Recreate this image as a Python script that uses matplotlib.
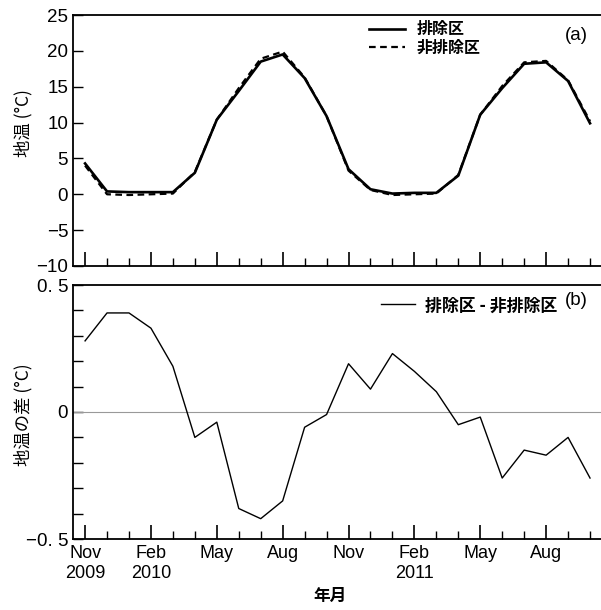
import matplotlib
matplotlib.use("Agg")
import matplotlib.pyplot as plt
from matplotlib.ticker import MultipleLocator, FixedLocator
import numpy as np

# monthly soil temperature, Nov 2009 - Oct 2011
months = ["Nov", "Dec", "Jan", "Feb", "Mar", "Apr", "May", "Jun", "Jul", "Aug", "Sep", "Oct",
          "Nov", "Dec", "Jan", "Feb", "Mar", "Apr", "May", "Jun", "Jul", "Aug", "Sep", "Oct"]
removed = [4.3, 0.4, 0.3, 0.3, 0.3, 3.0, 10.4, 14.4, 18.5, 19.5, 16.2, 10.9,
           3.5, 0.7, 0.1, 0.2, 0.2, 2.6, 11.1, 14.8, 18.2, 18.4, 15.8, 9.9]
not_removed = [4.0, 0.0, -0.1, 0.0, 0.1, 3.1, 10.4, 14.8, 18.9, 19.9, 16.3, 10.9,
               3.3, 0.6, -0.1, 0.0, 0.1, 2.7, 11.1, 15.1, 18.4, 18.6, 15.9, 10.2]
diff = [0.28, 0.39, 0.39, 0.33, 0.18, -0.10, -0.04, -0.38, -0.42, -0.35, -0.06, -0.01,
        0.19, 0.09, 0.23, 0.16, 0.08, -0.05, -0.02, -0.26, -0.15, -0.17, -0.10, -0.26]
xtick_labels = ["Nov\n2009", "Feb\n2010", "May", "Aug", "Nov", "Feb\n2011", "May", "Aug"]
ytick_top = [-10, -5, 0, 5, 10, 15, 20, 25]

latin = ["Liberation Sans", "DejaVu Sans"]
jp = ["Noto Sans CJK JP", "DejaVu Sans"]
plt.rcParams["font.family"] = jp

x = np.arange(len(months))
W, H = 601, 610
fig = plt.figure(figsize=(W / 100, H / 100), dpi=100)

def px_axes(l, t, r, b):
    return fig.add_axes([l / W, 1 - b / H, (r - l) / W, (b - t) / H])

ax1 = px_axes(73, 15, 601, 266)
ax2 = px_axes(73, 285, 601, 539)

for ax in (ax1, ax2):
    ax.set_xlim(-0.55, 23.5)
    ax.spines["right"].set_visible(False)
    for s in ("left", "bottom", "top"):
        ax.spines[s].set_linewidth(1.3)
    ax.xaxis.set_major_locator(FixedLocator(x[::3]))
    ax.xaxis.set_minor_locator(FixedLocator(x))
    ax.tick_params(axis="x", which="major", direction="in", length=10, width=1.2)
    ax.tick_params(axis="x", which="minor", direction="in", length=6, width=1.0)
    ax.tick_params(axis="y", which="both", direction="in", length=7, width=1.0)

# (a) soil temperature
ax1.plot(x, removed, color="black", lw=1.9, label="排除区")
ax1.plot(x, not_removed, color="black", lw=1.6, ls=(0, (3, 2)), label="非排除区")
ax1.set_ylim(-10, 25)
ax1.set_yticks(ytick_top)
ax1.set_yticklabels([str(v).replace("-", "\u2212") for v in ytick_top],
                    family=latin, fontsize=13.5)
ax1.set_xticklabels([])
ax1.set_ylabel("地温 (°C)", fontsize=12.5)
ax1.yaxis.set_label_coords(-0.077, 0.57)
ax1.legend(loc="upper left", bbox_to_anchor=(0.56, 0.975), frameon=False,
           borderpad=0, borderaxespad=0, handlelength=2.3, handletextpad=0.7,
           labelspacing=0.15, prop={"family": jp, "size": 11.5, "weight": "bold"})
ax1.text(0.975, 0.92, "(a)", transform=ax1.transAxes, ha="right", va="center",
         fontsize=13.5, family=latin)

# (b) difference
ax2.axhline(0, color="#999999", lw=0.8)
ax2.plot(x, diff, color="black", lw=1.0, label="排除区 - 非排除区")
ax2.set_ylim(-0.5, 0.5)
ax2.yaxis.set_minor_locator(MultipleLocator(0.1))
ax2.set_yticks([-0.5, 0, 0.5])
ax2.set_yticklabels(["\u22120. 5", "0", "0. 5"], family=latin, fontsize=13.5)
ax2.set_xticklabels(xtick_labels, family=latin, fontsize=13, linespacing=1.3)
ax2.tick_params(axis="x", which="major", pad=4)
ax2.set_ylabel("地温の差 (°C)", fontsize=12.5)
ax2.yaxis.set_label_coords(-0.076, 0.49)
ax2.set_xlabel("年月", fontsize=12, weight="bold")
ax2.xaxis.set_label_coords(0.487, -0.19)
ax2.legend(loc="upper left", bbox_to_anchor=(0.583, 0.955), frameon=False,
           borderpad=0, borderaxespad=0, handlelength=2.0, handletextpad=0.6,
           prop={"family": jp, "size": 12.2, "weight": "bold"})
ax2.text(0.975, 0.94, "(b)", transform=ax2.transAxes, ha="right", va="center",
         fontsize=13.5, family=latin)

fig.savefig("out.png", dpi=100)
